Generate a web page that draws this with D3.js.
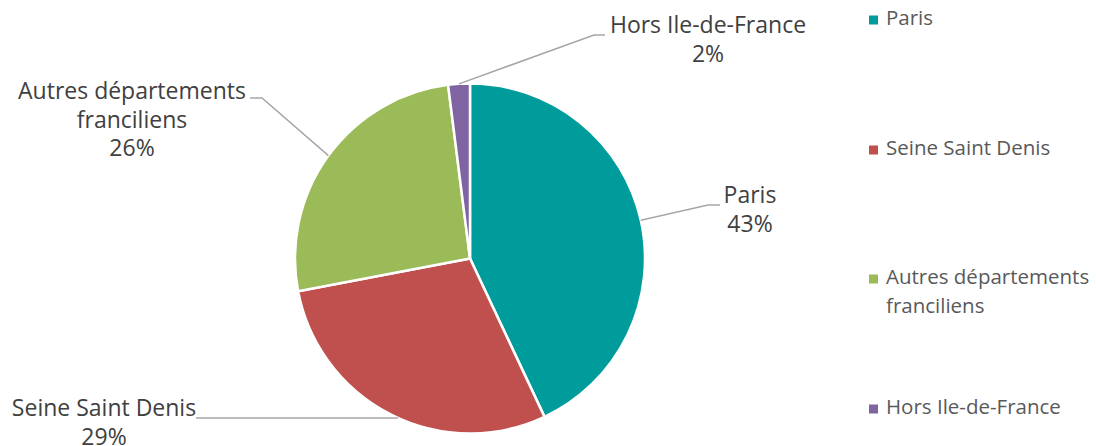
<!DOCTYPE html>
<html>
<head>
<meta charset="utf-8">
<script src="https://cdn.jsdelivr.net/npm/d3@7"></script>
<style>
  html, body { margin: 0; padding: 0; background: #fff; }
  svg { display: block; }
</style>
</head>
<body>
<svg id="chart" width="1096" height="446"></svg>
<script>
const categories = ["Paris", "Seine Saint Denis", "Autres départements franciliens", "Hors Ile-de-France"];
const values = [43, 29, 26, 2];
const labelLines = [["Paris"], ["Seine Saint Denis"], ["Autres départements", "franciliens"], ["Hors Ile-de-France"]];
const legendLines = [["Paris"], ["Seine Saint Denis"], ["Autres départements", "franciliens"], ["Hors Ile-de-France"]];
const colors = ["#009C9C", "#C0504D", "#9BBB59", "#8064A2"];

// layout (positions only)
const cx = 470, cy = 258.5, R = 175;
const labelLayout = [
  { x: 750, y: 197, elbow: [708, 205], end: [720, 205] },
  { x: 104, y: 410, elbow: null, end: [196, 418], horiz: true },
  { x: 132, y: 93, elbow: [262, 98], end: [250, 98] },
  { x: 708, y: 27, elbow: [594, 35], end: [605, 35] }
];
const legendY = [20, 150, 279, 409];

const svg = d3.select("#chart");
const g = svg.append("g").attr("transform", `translate(${cx},${cy})`);

const pie = d3.pie().sort(null).value(d => d)(values);
const arc = d3.arc().innerRadius(0).outerRadius(R);

g.selectAll("path.slice").data(pie).enter().append("path")
  .attr("class", "slice")
  .attr("d", arc)
  .attr("fill", (d, i) => colors[i])
  .attr("stroke", "#fff")
  .attr("stroke-width", 2.5)
  .attr("stroke-linejoin", "round");

// leader lines
pie.forEach((d, i) => {
  const a = (d.startAngle + d.endAngle) / 2;
  const L = labelLayout[i];
  let sx = cx + R * Math.sin(a), sy = cy - R * Math.cos(a);
  let pts;
  if (L.horiz) {
    const y = L.end[1];
    const dx = Math.sqrt(Math.max(0, R * R - (y - cy) * (y - cy)));
    sx = cx - dx;
    pts = [[sx, y], L.end];
  } else {
    pts = [[sx, sy], L.elbow, L.end];
  }
  svg.append("path")
    .attr("d", d3.line()(pts))
    .attr("fill", "none")
    .attr("stroke", "#A6A6A6")
    .attr("stroke-width", 1.5);
});

// data labels
const fmt = d3.format(".0%");
pie.forEach((d, i) => {
  const L = labelLayout[i];
  const lines = labelLines[i].concat([fmt(values[i] / 100)]);
  const t = svg.append("text")
    .attr("text-anchor", "middle")
    .attr("font-family", "'Open Sans', sans-serif")
    .attr("font-size", 23)
    .attr("fill", "#404040");
  lines.forEach((ln, k) => {
    t.append("tspan").attr("x", L.x).attr("y", L.y + k * 28.5)
      .attr("dominant-baseline", "middle").text(ln);
  });
});

// legend
const lg = svg.append("g");
categories.forEach((c, i) => {
  lg.append("rect")
    .attr("x", 869).attr("y", legendY[i] - 4.5)
    .attr("width", 9).attr("height", 9)
    .attr("fill", colors[i]);
  const t = lg.append("text")
    .attr("font-family", "'Open Sans', sans-serif")
    .attr("font-size", 20.5)
    .attr("fill", "#595959");
  legendLines[i].forEach((ln, k) => {
    t.append("tspan").attr("x", 886).attr("y", legendY[i] + k * 29)
      .attr("dominant-baseline", "middle").text(ln);
  });
});
</script>
</body>
</html>
